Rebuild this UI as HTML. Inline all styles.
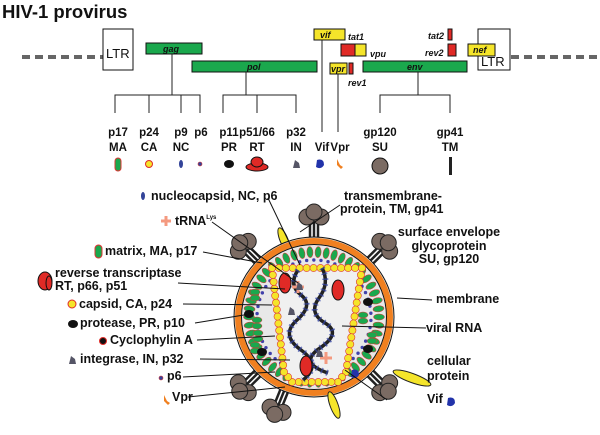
<!DOCTYPE html>
<html><head><meta charset="utf-8"><style>
html,body{margin:0;padding:0;background:#fff;width:600px;height:435px;overflow:hidden}
svg text{font-family:"Liberation Sans",sans-serif;font-weight:bold;fill:#111}
</style></head><body>
<svg id="s" width="600" height="435" viewBox="0 0 600 435" xmlns="http://www.w3.org/2000/svg">
<text x="2" y="18" font-size="18.5">HIV-1 provirus</text>
<line x1="22" y1="57" x2="103" y2="57" stroke="#666" stroke-width="4" stroke-dasharray="8,5"/>
<line x1="511" y1="57" x2="600" y2="57" stroke="#666" stroke-width="4" stroke-dasharray="8,5"/>
<rect x="103" y="29" width="30" height="41" fill="#fff" stroke="#111"/>
<text x="106" y="58" font-size="13" style="font-weight:normal">LTR</text>
<rect x="478" y="29" width="32" height="41" fill="#fff" stroke="#111"/>
<text x="481" y="66" font-size="13" style="font-weight:normal">LTR</text>
<g stroke="#111" stroke-width="1">
<rect x="146" y="43" width="56" height="11" fill="#1aa84d"/>
<rect x="192" y="61" width="125" height="11" fill="#1aa84d"/>
<rect x="363" y="61" width="104" height="11" fill="#1aa84d"/>
<rect x="314" y="29" width="31" height="11" fill="#f5e52a"/>
<rect x="341" y="44" width="14" height="12" fill="#e02a26"/>
<rect x="355" y="44" width="11" height="12" fill="#f5e52a"/>
<rect x="330" y="63" width="17" height="11" fill="#f5e52a"/>
<rect x="349" y="63" width="4" height="11" fill="#e02a26"/>
<rect x="448" y="29" width="4" height="11" fill="#e02a26"/>
<rect x="448" y="44" width="8" height="12" fill="#e02a26"/>
<rect x="468" y="44" width="27" height="12" fill="#f5e52a"/>
</g>
<g font-size="9" font-style="italic">
<text x="163" y="52">gag</text><text x="247" y="70">pol</text><text x="407" y="70">env</text>
<text x="320" y="38">vif</text><text x="348" y="40">tat1</text><text x="370" y="57">vpu</text>
<text x="331" y="72">vpr</text><text x="348" y="86">rev1</text><text x="428" y="39">tat2</text>
<text x="425" y="56">rev2</text><text x="473" y="53">nef</text>
</g>
<g stroke="#222" stroke-width="1" fill="none">
<path d="M172 54V95M115 113V95H200V113M149 95V113M181 95V113"/>
<path d="M246 72V95M223 113V95H296V113M257 95V113"/>
<path d="M322 40V132M338 74V132"/>
<path d="M418 72V95M380 113V95H450V113"/>
</g>
<g font-size="11.5" text-anchor="middle">
<text x="118" y="136">p17</text><text x="118" y="151">MA</text>
<text x="149" y="136">p24</text><text x="149" y="151">CA</text>
<text x="181" y="136">p9</text><text x="181" y="151">NC</text>
<text x="201" y="136">p6</text>
<text x="229" y="136">p11</text><text x="229" y="151">PR</text>
<text x="257" y="136">p51/66</text><text x="257" y="151">RT</text>
<text x="296" y="136">p32</text><text x="296" y="151">IN</text>
<text x="322" y="151">Vif</text><text x="340" y="151">Vpr</text>
<text x="380" y="136">gp120</text><text x="380" y="151">SU</text>
<text x="450" y="136">gp41</text><text x="450" y="151">TM</text>
</g>
<rect x="115" y="158" width="6" height="13" rx="3" fill="#1aa84d" stroke="#d33"/>
<circle cx="149" cy="164" r="3.5" fill="#f5e52a" stroke="#e02a26"/>
<ellipse cx="181" cy="164" rx="2" ry="4" fill="#334499"/>
<circle cx="200" cy="164" r="2" fill="#334499" stroke="#d33" stroke-width=".6"/>
<ellipse cx="229" cy="164" rx="5" ry="4" fill="#111"/>
<ellipse cx="257" cy="167" rx="11" ry="4" fill="#e02a26" stroke="#111"/><ellipse cx="257" cy="162" rx="6" ry="5" fill="#e02a26" stroke="#111"/>
<path d="M293 168l2-8 4 3 1 5z" fill="#556"/>
<path d="M317 160q7-2 7 5q-3 5-8 2z" fill="#2233aa"/>
<path d="M337 159l3 6 3 2-2 2-4-4z" fill="#f08020"/>
<circle cx="380" cy="166" r="8" fill="#7b6b63" stroke="#111"/>
<rect x="449" y="157" width="3" height="18" fill="#222"/>
<g id="vir"></g>
<g font-size="12.5">
<text x="151" y="200">nucleocapsid, NC, p6</text>
<text x="175" y="225">tRNA<tspan font-size="6" dy="-6">Lys</tspan></text>
<text x="105" y="255">matrix, MA, p17</text>
<text x="55" y="277">reverse transcriptase</text><text x="55" y="290">RT, p66, p51</text>
<text x="79" y="308">capsid, CA, p24</text>
<text x="80" y="327">protease, PR, p10</text>
<text x="110" y="344">Cyclophylin A</text>
<text x="80" y="363">integrase, IN, p32</text>
<text x="167" y="380">p6</text>
<text x="172" y="401">Vpr</text>
<text x="344" y="200">transmembrane-</text><text x="340" y="213">protein, TM, gp41</text>
<text x="449" y="236" text-anchor="middle">surface envelope</text><text x="449" y="250" text-anchor="middle">glycoprotein</text><text x="449" y="263" text-anchor="middle">SU, gp120</text>
<text x="436" y="303">membrane</text><text x="426" y="332">viral RNA</text>
<text x="427" y="365">cellular</text><text x="427" y="380">protein</text><text x="427" y="403">Vif</text>
</g>
<g>
<ellipse cx="143" cy="196" rx="2" ry="4" fill="#334499"/>
<path d="M161 221h10M166 216v10" stroke="#f49a80" stroke-width="3"/>
<rect x="95" y="245" width="7" height="13" rx="3.5" fill="#1aa84d" stroke="#d33"/>
<ellipse cx="45" cy="281" rx="7" ry="9" fill="#e02a26" stroke="#111"/><ellipse cx="49" cy="283" rx="3" ry="7" fill="#e02a26" stroke="#111"/>
<circle cx="72" cy="304" r="4" fill="#f5e52a" stroke="#e02a26"/>
<ellipse cx="73" cy="324" rx="5" ry="4" fill="#111"/>
<circle cx="103" cy="341" r="3.5" fill="#111" stroke="#e02a26"/>
<path d="M69 364l2-8 4 3 1 5z" fill="#556"/>
<circle cx="161" cy="378" r="2" fill="#334499" stroke="#d33" stroke-width=".6"/>
<path d="M164 395l3 6 3 2-2 2-4-4z" fill="#f08020"/>
<path d="M448 398q7-2 7 5q-3 5-8 2z" fill="#2233aa"/>
</g>
</svg>
<script>
var g=document.getElementById('vir'),cx=314,cy=317,h='';
function spike(a){var r=a*Math.PI/180,c=Math.cos(r),s=Math.sin(r),px=-s,py=c,o='';
[-4,0,4].forEach(function(d){o+='<line x1="'+(cx+c*70+px*d)+'" y1="'+(cy+s*70+py*d)+'" x2="'+(cx+c*95+px*d)+'" y2="'+(cy+s*95+py*d)+'" stroke="#222" stroke-width="2.5"/>';});
[-7,7,0].forEach(function(d,k){var R=k==2?105:100;o+='<circle cx="'+(cx+c*R+px*d)+'" cy="'+(cy+s*R+py*d)+'" r="8" fill="#7b6b63" stroke="#222"/>';});return o;}
[-90,-135,-45,135,45,112].forEach(function(a){h+=spike(a);});
h+='<ellipse cx="284" cy="240" rx="4" ry="13" transform="rotate(-22 284 240)" fill="#f5e52a" stroke="#222"/>';
h+='<circle cx="'+cx+'" cy="'+cy+'" r="80" fill="#e8e8e8" stroke="#111" stroke-width="1"/>';
h+='<circle cx="'+cx+'" cy="'+cy+'" r="76" fill="none" stroke="#f08020" stroke-width="6"/>';
h+='<circle cx="'+cx+'" cy="'+cy+'" r="72.5" fill="none" stroke="#111" stroke-width="1"/>';
for(var i=0;i<50;i++){var a=i*360/50,r=a*Math.PI/180,ex=cx+Math.cos(r)*65,ey=cy+Math.sin(r)*65;h+='<ellipse cx="'+ex+'" cy="'+ey+'" rx="5.5" ry="3" transform="rotate('+a+' '+ex+' '+ey+')" fill="#1aa84d" stroke="#d33" stroke-width=".5"/>';
h+='<circle cx="'+(cx+Math.cos(r+.06)*57)+'" cy="'+(cy+Math.sin(r+.06)*57)+'" r="1.7" fill="#4040aa"/>';}
h+='<ellipse cx="412" cy="378" rx="20" ry="4.5" transform="rotate(20 412 378)" fill="#f5e52a" stroke="#222"/>';
h+='<ellipse cx="334" cy="405" rx="4" ry="14" transform="rotate(-20 334 405)" fill="#f5e52a" stroke="#222"/>';
[[255,292],[257,320],[255,345],[363,315],[372,335],[258,333]].forEach(function(p){h+='<ellipse cx="'+p[0]+'" cy="'+p[1]+'" rx="5" ry="3" fill="#1aa84d" stroke="#d33" stroke-width=".5"/><ellipse cx="'+p[0]+'" cy="'+(p[1]+6)+'" rx="5" ry="3" fill="#1aa84d" stroke="#d33" stroke-width=".5"/>';});
[[249,314],[262,352],[368,302],[368,349]].forEach(function(p){h+='<ellipse cx="'+p[0]+'" cy="'+p[1]+'" rx="5" ry="4" fill="#111"/>';});
var cone=[];
var pts=[[272,268],[362,268],[346,372],[338,382],[292,382],[284,372]];
for(var k=0;k<pts.length;k++){var A=pts[k],B=pts[(k+1)%pts.length],L=Math.hypot(B[0]-A[0],B[1]-A[1]),n=Math.round(L/7);for(var j=0;j<n;j++)cone.push([A[0]+(B[0]-A[0])*j/n,A[1]+(B[1]-A[1])*j/n]);}
h+='<polygon points="'+pts.join(' ')+'" fill="#f0f0f0"/>';
cone.forEach(function(p){h+='<circle cx="'+p[0]+'" cy="'+p[1]+'" r="3.6" fill="#f5e52a" stroke="#d33" stroke-width=".6"/>';});
h+='<path d="M298 270q-10 15 3 25t-4 25t4 30t2 30M322 268q8 15-3 30t6 25t-5 25t8 25" fill="none" stroke="#222" stroke-width="3.5"/>';
h+='<path d="M298 270q-10 15 3 25t-4 25t4 30t2 30M322 268q8 15-3 30t6 25t-5 25t8 25" fill="none" stroke="#3344aa" stroke-width="6" stroke-dasharray="1.5,4" opacity=".7"/>';
[[285,283],[338,290],[306,366]].forEach(function(p){h+='<ellipse cx="'+p[0]+'" cy="'+p[1]+'" rx="6" ry="10" fill="#e02a26" stroke="#111"/>';});
h+='<path d="M292 287h12M298 281v12M320 358h12M326 352v12" stroke="#f49a80" stroke-width="3"/>';
[[288,315],[296,290],[316,357]].forEach(function(p){h+='<path d="M'+p[0]+' '+p[1]+'l2-8 4 3 1 5z" fill="#556"/>';});
h+='<path d="M352 370q7-2 7 5q-3 5-8 2z" fill="#2233aa"/>';
var L=[[268,198,300,265],[212,222,298,283],[203,252,262,263],[178,283,285,289],[183,304,272,305],[195,323,250,314],[197,340,275,336],[200,359,290,360],[183,377,275,372],[188,397,285,387],[426,328,342,326],[432,300,397,298],[387,400,345,370],[340,205,300,232]];
L.forEach(function(l){h+='<line x1="'+l[0]+'" y1="'+l[1]+'" x2="'+l[2]+'" y2="'+l[3]+'" stroke="#111" stroke-width="1"/>';});
g.innerHTML=h;
</script>
</body></html>
